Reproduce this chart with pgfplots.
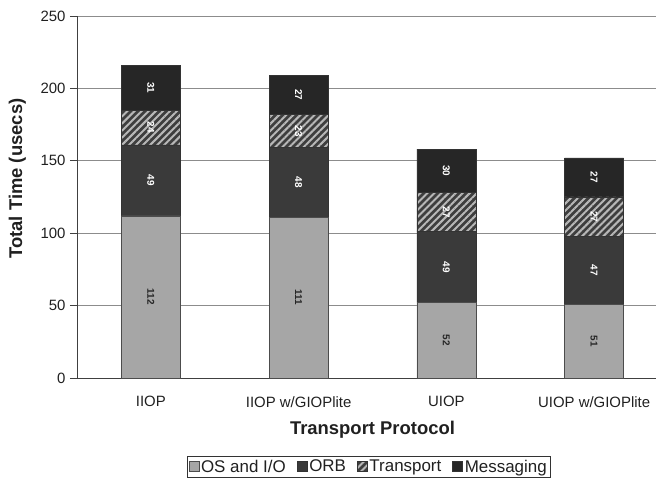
\documentclass[border=0pt]{standalone}
\usepackage{fontspec}
\setmainfont{Liberation Sans}
\usepackage{pgfplots}
\pgfplotsset{compat=1.18}
\usetikzlibrary{patterns.meta}

\definecolor{osgray}{HTML}{A6A6A6}
\definecolor{orbgray}{HTML}{3A3A3A}
\definecolor{trbg}{HTML}{3E3E3E}
\definecolor{trline}{HTML}{B8B8B8}
\definecolor{msggray}{HTML}{262626}
\definecolor{gridgray}{HTML}{8C8C8C}
\definecolor{txt}{HTML}{202020}

\begin{document}
\begin{tikzpicture}
\begin{axis}[
  name=ax,
  scale only axis,
  width=591bp, height=362bp,
  ybar stacked,
  bar width=0.4,
  xmin=-0.5, xmax=3.5,
  ymin=0, ymax=250,
  ytick distance=50,
  xtick={0,1,2,3},
  xticklabels={IIOP, IIOP w/GIOPlite, UIOP, UIOP w/GIOPlite},
  minor xtick={0.5,1.5,2.5},
  axis x line*=bottom,
  axis y line*=left,
  axis line style={black!75, line width=0.8bp},
  tick align=outside,
  major tick length=7bp,
  minor tick length=5bp,
  xtick style={draw=none},
  minor x tick style={black!75, line width=0.8bp},
  ytick style={black!75, line width=0.8bp},
  ymajorgrids,
  major grid style={gridgray, line width=0.8bp},
  tick label style={font=\fontsize{15}{18}\selectfont, text=txt},
  /pgf/number format/assume math mode=true,
  xticklabel style={yshift=-8bp},
  yticklabel style={xshift=-1bp},
  xlabel={Transport Protocol},
  ylabel={Total Time (usecs)},
  label style={font=\fontsize{18.5}{22}\selectfont\bfseries, text=txt},
  xlabel style={at={(axis description cs:0.5,-0.157)}, anchor=base},
  ylabel style={at={(axis description cs:-0.093,0.551)}, anchor=base},
  legend columns=4,
  legend style={at={(axis description cs:0.4935,-0.2155)}, anchor=north,
    draw=black!80, line width=0.6bp, inner sep=1.5bp,
    font=\fontsize{17}{19}\selectfont, text=txt,
    nodes={inner xsep=2bp},
    /tikz/every even column/.append style={column sep=9bp}},
  legend image code/.code={\draw[#1, line width=0.5bp] (0bp,-5bp) rectangle (10bp,5bp);},
  visualization depends on=rawy\as\rawy,
  nodes near coords={\pgfmathprintnumber{\rawy}},
  every node near coord/.append style={
    anchor=center, rotate=-90,
    font=\fontsize{10}{11}\selectfont\bfseries, text=white},
]
\addplot[fill=osgray, draw=black!70, line width=0.6bp,
  every node near coord/.append style={text=black!85}]
  coordinates {(0,112) (1,111) (2,52) (3,51)};
\addplot[fill=orbgray, draw=black!80, line width=0.6bp]
  coordinates {(0,49) (1,48) (2,49) (3,47)};
\addplot[fill=trbg, draw=black!80, line width=0.6bp,
  postaction={pattern={Lines[angle=45,distance=5bp,line width=2bp]}, pattern color=trline}]
  coordinates {(0,24) (1,23) (2,27) (3,27)};
\addplot[fill=msggray, draw=black!80, line width=0.6bp]
  coordinates {(0,31) (1,27) (2,30) (3,27)};
\legend{OS and I/O, ORB, Transport, Messaging}
\end{axis}
\pgfresetboundingbox
\path[use as bounding box] ([shift={(-77bp,-101bp)}]ax.south west)
  rectangle ([shift={(579bp,378bp)}]ax.south west);
\end{tikzpicture}
\end{document}
